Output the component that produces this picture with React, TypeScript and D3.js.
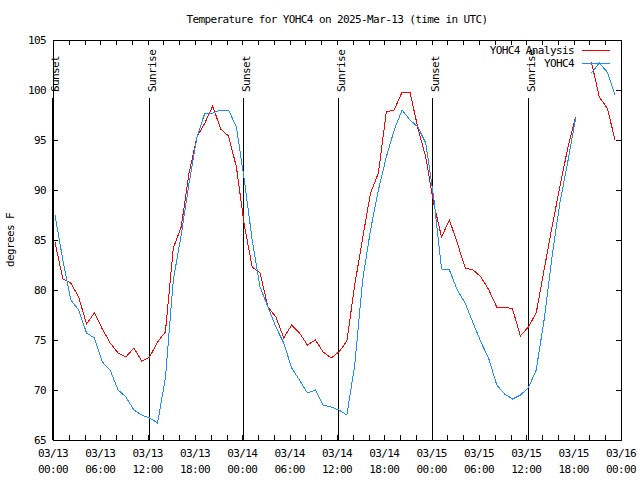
import React from "react";
import * as d3 from "d3";

// ---- data (hourly observations, first one at 03/13 00:15 UTC) ----
const firstObsHour = 0.25;
const analysisTemps: (number | null)[] = [
  84.8, 81.1, 80.7, 79.3, 76.6, 77.7, 76.1, 74.7, 73.7, 73.3, 74.2, 72.9,
  73.3, 74.8, 75.8, 84.2, 86.3, 91.7, 95.3, 96.7, 98.4, 96.1, 95.4, 92.3,
  86.5, 82.3, 81.7, 78.3, 77.3, 75.2, 76.5, 75.7, 74.5, 75.0, 73.8, 73.2,
  73.8, 74.9, 80.5, 85.2, 89.7, 91.7, 97.8, 98.0, 99.8, 99.8, 96.2, 93.3,
  88.7, 85.3, 87.0, 84.7, 82.2, 82.0, 81.3, 80.0, 78.3, 78.3, 78.1, 75.4,
  76.3, 77.7, 82.0, 86.3, 90.3, 94.2, 97.3, null, 102.8, 99.3, 98.2, 95.0,
];
const observedTemps: (number | null)[] = [
  87.5, 83.0, 79.0, 78.0, 75.7, 75.2, 72.8, 72.0, 70.0, 69.3, 68.0, 67.5,
  67.2, 66.7, 71.2, 81.0, 85.5, 90.7, 95.3, 97.7, 97.7, 98.0, 98.0, 96.3,
  91.0, 85.0, 80.3, 78.3, 76.3, 74.7, 72.2, 71.0, 69.7, 70.0, 68.5, 68.3,
  68.0, 67.5, 72.5, 81.0, 86.0, 90.0, 93.3, 96.0, 98.0, 97.0, 96.3, 94.7,
  89.3, 82.1, 82.0, 80.0, 78.7, 76.7, 74.8, 73.1, 70.5, 69.6, 69.1, 69.5,
  70.2, 72.0, 77.0, 83.3, 88.7, 92.8, 97.2, null, 101.7, 102.7, 101.8, 99.5,
];
const sunsetHours = [-0.08, 24.03, 48.05];
const sunriseHours = [12.2, 36.18, 60.17];
const xTickHours = [0, 6, 12, 18, 24, 30, 36, 42, 48, 54, 60, 66, 72];
const xTickDates = ["03/13", "03/13", "03/13", "03/13", "03/14", "03/14", "03/14", "03/14", "03/15", "03/15", "03/15", "03/15", "03/16"];
const xTickTimes = ["00:00", "06:00", "12:00", "18:00", "00:00", "06:00", "12:00", "18:00", "00:00", "06:00", "12:00", "18:00", "00:00"];
const yTicks = [65, 70, 75, 80, 85, 90, 95, 100, 105];
const seriesNames = ["YOHC4 Analysis", "YOHC4"];
const seriesColors = ["#ff0000", "#1a8cff"];
const title = "Temperature for YOHC4 on 2025-Mar-13 (time in UTC)";
const yLabel = "degrees F";

const W = 640, H = 480;
const L = 53, R = 621, T = 40, B = 440;
const font = { fontFamily: "'DejaVu Sans Mono', monospace", fontSize: 11, letterSpacing: -0.6 };

export default function App() {
  const x = d3.scaleLinear().domain([0, 72]).range([L, R]);
  const y = d3.scaleLinear().domain([65, 105]).range([B, T]);
  const line = d3
    .line<number | null>()
    .defined((d) => d !== null)
    .x((_, i) => x(firstObsHour + i))
    .y((d) => y(d as number));
  const series = [analysisTemps, observedTemps];
  const minorX = d3.range(0, 73, 2);

  return (
    <svg width={W} height={H} style={{ position: "absolute", left: 0, top: 0, background: "#fff" }}>
      <rect x={0} y={0} width={W} height={H} fill="#fff" />
      <text x={337} y={23} textAnchor="middle" style={font}>{title}</text>
      <text transform={`translate(14,240) rotate(-90)`} textAnchor="middle" style={font}>{yLabel}</text>

      {/* y ticks */}
      {yTicks.map((v) => (
        <g key={"y" + v} shapeRendering="crispEdges">
          <line x1={L} x2={L + 5} y1={Math.round(y(v)) + 0.5} y2={Math.round(y(v)) + 0.5} stroke="#000" />
          <line x1={R - 5} x2={R} y1={Math.round(y(v)) + 0.5} y2={Math.round(y(v)) + 0.5} stroke="#000" />
          <text x={46} y={y(v) + 4} textAnchor="end" style={font}>{v}</text>
        </g>
      ))}
      {/* x ticks */}
      {minorX.map((h) => (
        <g key={"x" + h} shapeRendering="crispEdges">
          <line x1={Math.round(x(h)) + 0.5} x2={Math.round(x(h)) + 0.5} y1={B} y2={B - 5} stroke="#000" />
          <line x1={Math.round(x(h)) + 0.5} x2={Math.round(x(h)) + 0.5} y1={T} y2={T + 5} stroke="#000" />
        </g>
      ))}
      {xTickHours.map((h, i) => (
        <g key={"xl" + h}>
          <text x={x(h)} y={457} textAnchor="middle" style={font}>{xTickDates[i]}</text>
          <text x={x(h)} y={473} textAnchor="middle" style={font}>{xTickTimes[i]}</text>
        </g>
      ))}

      {/* sunset / sunrise markers */}
      {[...sunsetHours.map((h) => ({ h, t: "Sunset" })), ...sunriseHours.map((h) => ({ h, t: "Sunrise" }))].map((m) => {
        const px = Math.round(x(m.h)) + 0.5;
        return (
          <g key={m.t + m.h}>
            <line x1={px} x2={px} y1={98} y2={B} stroke="#000" shapeRendering="crispEdges" />
            <text transform={`translate(${px + 6},92) rotate(-90)`} textAnchor="start" style={font}>{m.t}</text>
          </g>
        );
      })}

      {/* frame */}
      <rect x={L + 0.5} y={T + 0.5} width={R - L} height={B - T} fill="none" stroke="#000" shapeRendering="crispEdges" />

      {/* data */}
      {series.map((s, i) => (
        <path key={"s" + i} d={line(s) || ""} fill="none" stroke={seriesColors[i]} strokeWidth={1} shapeRendering="crispEdges" />
      ))}

      {/* legend */}
      {seriesNames.map((n, i) => (
        <g key={"lg" + i}>
          <text x={574} y={54 + i * 13} textAnchor="end" style={font}>{n}</text>
          <line x1={582} x2={610} y1={50.5 + i * 13} y2={50.5 + i * 13} stroke={seriesColors[i]} shapeRendering="crispEdges" />
        </g>
      ))}
    </svg>
  );
}
